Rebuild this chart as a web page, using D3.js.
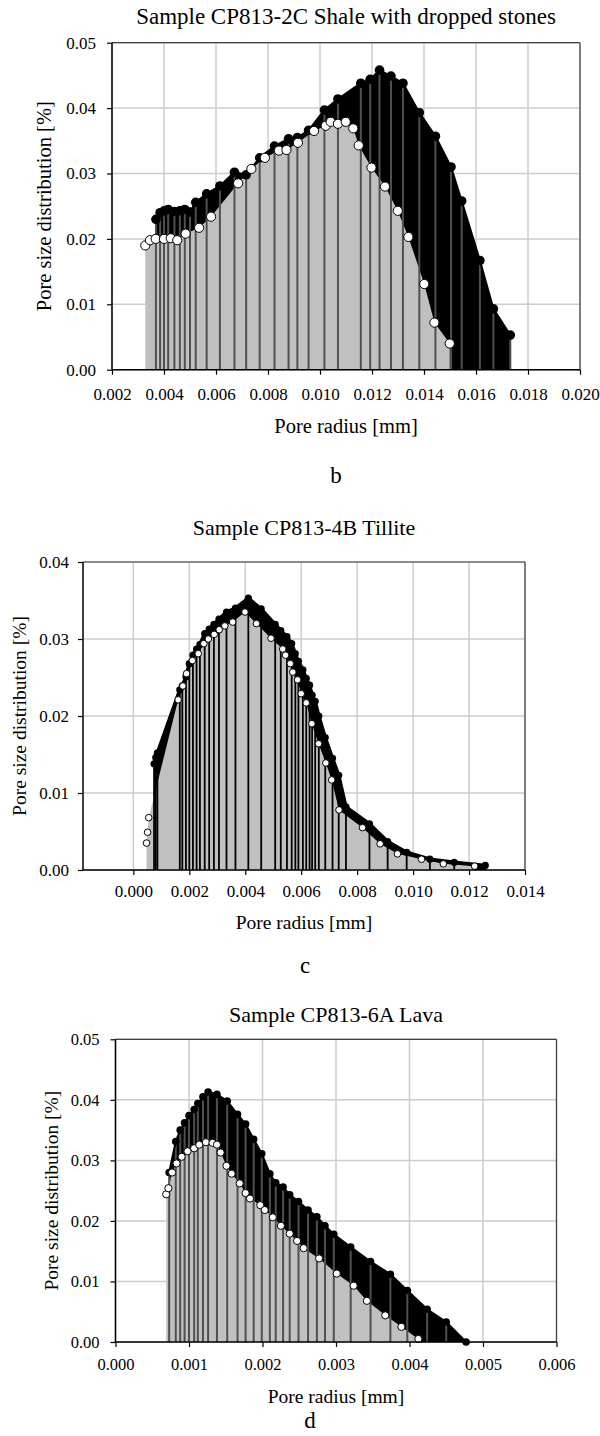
<!DOCTYPE html>
<html>
<head>
<meta charset="utf-8">
<script src="https://cdn.jsdelivr.net/npm/d3@7"></script>
<style>
  body { margin: 0; background: #fff; }
  svg { display: block; }
</style>
</head>
<body>
<svg id="fig" width="600" height="1436"></svg>
<script>
// ---- panel b : CP813-2C shale ----
const bBlackX = [0.00369, 0.00385, 0.00400, 0.00416, 0.00440, 0.00461, 0.00480, 0.00500, 0.00522, 0.00564, 0.00615, 0.00671, 0.00716, 0.00768, 0.00825, 0.00879, 0.00913, 0.00956, 0.01017, 0.01069, 0.01157, 0.01193, 0.01229, 0.01273, 0.01319, 0.01382, 0.01444, 0.01504, 0.01545, 0.01615, 0.01667, 0.01732];
const bBlackY = [0.0230, 0.0240, 0.0243, 0.0245, 0.0242, 0.0243, 0.0245, 0.0241, 0.0256, 0.0269, 0.0281, 0.0302, 0.0298, 0.0324, 0.0342, 0.0353, 0.0355, 0.0366, 0.0397, 0.0414, 0.0438, 0.0444, 0.0458, 0.0449, 0.0438, 0.0393, 0.0357, 0.0310, 0.0258, 0.0167, 0.0093, 0.0053];
const bWhiteX = [0.00328, 0.00346, 0.00368, 0.00400, 0.00426, 0.00451, 0.00483, 0.00535, 0.00581, 0.00685, 0.00736, 0.00788, 0.00842, 0.00871, 0.00915, 0.00977, 0.01022, 0.01041, 0.01069, 0.01099, 0.01128, 0.01149, 0.01198, 0.01250, 0.01299, 0.01340, 0.01401, 0.01440, 0.01499];
const bWhiteY = [0.0190, 0.0198, 0.0200, 0.0200, 0.0201, 0.0198, 0.0208, 0.0217, 0.0234, 0.0285, 0.0307, 0.0324, 0.0335, 0.0336, 0.0347, 0.0365, 0.0373, 0.0379, 0.0376, 0.0379, 0.0369, 0.0343, 0.0309, 0.0280, 0.0243, 0.0203, 0.0131, 0.0072, 0.0040];
const bXTicks = [0.002, 0.004, 0.006, 0.008, 0.010, 0.012, 0.014, 0.016, 0.018, 0.020];
const bYTicks = [0.00, 0.01, 0.02, 0.03, 0.04, 0.05];

// ---- panel c : CP813-4B tillite ----
const cBlackX = [0.00074, 0.00080, 0.00086, 0.00166, 0.00175, 0.00188, 0.00200, 0.00213, 0.00226, 0.00238, 0.00255, 0.00271, 0.00288, 0.00306, 0.00333, 0.00365, 0.00411, 0.00457, 0.00507, 0.00527, 0.00549, 0.00566, 0.00579, 0.00590, 0.00606, 0.00618, 0.00630, 0.00639, 0.00650, 0.00663, 0.00686, 0.00712, 0.00734, 0.00760, 0.00844, 0.00909, 0.00977, 0.01060, 0.01147, 0.01258];
const cBlackY = [0.0138, 0.0146, 0.0152, 0.0234, 0.0239, 0.0251, 0.0268, 0.0279, 0.0287, 0.0293, 0.0307, 0.0313, 0.0319, 0.0326, 0.0335, 0.0340, 0.0353, 0.0339, 0.0319, 0.0311, 0.0303, 0.0294, 0.0281, 0.0271, 0.0260, 0.0249, 0.0240, 0.0227, 0.0219, 0.0200, 0.0172, 0.0145, 0.0123, 0.0082, 0.0060, 0.0037, 0.0023, 0.0014, 0.0010, 0.0006];
const cWhiteX = [0.00047, 0.00051, 0.00055, 0.00160, 0.00177, 0.00190, 0.00211, 0.00232, 0.00252, 0.00268, 0.00289, 0.00307, 0.00327, 0.00355, 0.00399, 0.00440, 0.00492, 0.00534, 0.00544, 0.00561, 0.00570, 0.00587, 0.00600, 0.00618, 0.00638, 0.00662, 0.00688, 0.00709, 0.00735, 0.00819, 0.00882, 0.00944, 0.01030, 0.01108, 0.01220];
const cWhiteY = [0.0035, 0.0049, 0.0068, 0.0221, 0.0239, 0.0255, 0.0272, 0.0281, 0.0294, 0.0300, 0.0306, 0.0312, 0.0317, 0.0322, 0.0335, 0.0320, 0.0301, 0.0287, 0.0279, 0.0268, 0.0257, 0.0247, 0.0229, 0.0217, 0.0190, 0.0164, 0.0139, 0.0117, 0.0078, 0.0055, 0.0034, 0.0021, 0.0014, 0.0008, 0.0005];
const cXTicks = [0.000, 0.002, 0.004, 0.006, 0.008, 0.010, 0.012, 0.014];
const cYTicks = [0.00, 0.01, 0.02, 0.03, 0.04];

// ---- panel d : CP813-6A lava ----
const dBlackX = [0.00073, 0.00082, 0.00088, 0.00094, 0.00100, 0.00107, 0.00112, 0.00119, 0.00126, 0.00138, 0.00152, 0.00166, 0.00177, 0.00188, 0.00199, 0.00210, 0.00218, 0.00228, 0.00237, 0.00249, 0.00262, 0.00274, 0.00285, 0.00297, 0.00320, 0.00347, 0.00374, 0.00397, 0.00424, 0.00450, 0.00477];
const dBlackY = [0.0280, 0.0331, 0.0350, 0.0362, 0.0374, 0.0384, 0.0394, 0.0405, 0.0413, 0.0409, 0.0398, 0.0376, 0.0360, 0.0335, 0.0311, 0.0278, 0.0263, 0.0256, 0.0243, 0.0232, 0.0218, 0.0207, 0.0192, 0.0178, 0.0157, 0.0133, 0.0112, 0.0085, 0.0054, 0.0033, 0.0000];
const dWhiteX = [0.00069, 0.00072, 0.00077, 0.00083, 0.00090, 0.00098, 0.00107, 0.00114, 0.00123, 0.00132, 0.00138, 0.00143, 0.00151, 0.00158, 0.00169, 0.00177, 0.00183, 0.00197, 0.00203, 0.00214, 0.00225, 0.00237, 0.00247, 0.00256, 0.00277, 0.00301, 0.00324, 0.00342, 0.00367, 0.00389, 0.00412];
const dWhiteY = [0.0244, 0.0254, 0.0280, 0.0295, 0.0306, 0.0315, 0.0320, 0.0326, 0.0330, 0.0329, 0.0326, 0.0313, 0.0291, 0.0278, 0.0262, 0.0246, 0.0237, 0.0226, 0.0218, 0.0206, 0.0192, 0.0179, 0.0167, 0.0155, 0.0138, 0.0113, 0.0093, 0.0068, 0.0044, 0.0025, 0.0005];
const dXTicks = [0.000, 0.001, 0.002, 0.003, 0.004, 0.005, 0.006];
const dYTicks = [0.00, 0.01, 0.02, 0.03, 0.04, 0.05];

// pick the first serif face that is really installed (Times-like first)
function pickFont(list) {
  const ctx = document.createElement("canvas").getContext("2d");
  const probe = "Sample CP813 mmmwwwlli 0.012";
  ctx.font = "40px monospace";
  const base = ctx.measureText(probe).width;
  for (const f of list) {
    ctx.font = `40px "${f}", monospace`;
    if (Math.abs(ctx.measureText(probe).width - base) > 0.5) return `"${f}", serif`;
  }
  return "serif";
}
const FONT = pickFont(["Liberation Serif", "Times New Roman", "Tinos", "Nimbus Roman", "DejaVu Serif", "Noto Serif"]);

const svg = d3.select("#fig").style("font-family", FONT);
const zip = (xs, ys) => xs.map((x, i) => ({x: x, y: ys[i]}));

function drawPanel(o) {
  const x = d3.scaleLinear().domain(o.xDomain).range([o.left, o.right]);
  const y = d3.scaleLinear().domain(o.yDomain).range([o.bottom, o.top]);
  const g = svg.append("g");
  const black = zip(o.bx, o.by);
  const white = zip(o.wx, o.wy);

  // grid
  g.selectAll(".gx").data(o.xTicks).enter().append("line")
    .attr("x1", d => x(d)).attr("x2", d => x(d))
    .attr("y1", o.top).attr("y2", o.bottom)
    .attr("stroke", "#cccccc").attr("stroke-width", 1.5);
  g.selectAll(".gy").data(o.yTicks).enter().append("line")
    .attr("x1", o.left).attr("x2", o.right)
    .attr("y1", d => y(d)).attr("y2", d => y(d))
    .attr("stroke", "#cccccc").attr("stroke-width", 1.5);

  // black area then grey area on top
  const area = d3.area().x(d => x(d.x)).y0(y(0)).y1(d => y(d.y));
  g.append("path").datum(black).attr("d", area).attr("fill", "#000");
  g.append("path").datum(white).attr("d", area).attr("fill", "#c0c0c0");

  // drop lines
  g.selectAll(".drop").data(black).enter().append("line")
    .attr("x1", d => x(d.x)).attr("x2", d => x(d.x))
    .attr("y1", d => y(d.y)).attr("y2", y(0))
    .attr("stroke", o.dropColor).attr("stroke-width", o.dropWidth);

  // black line + dots
  g.append("path").datum(black)
    .attr("d", d3.line().x(d => x(d.x)).y(d => y(d.y)))
    .attr("fill", "none").attr("stroke", "#000").attr("stroke-width", o.lineWidth);
  g.selectAll(".bd").data(black).enter().append("circle")
    .attr("cx", d => x(d.x)).attr("cy", d => y(d.y)).attr("r", o.rb).attr("fill", "#000");
  g.selectAll(".wd").data(white).enter().append("circle")
    .attr("cx", d => x(d.x)).attr("cy", d => y(d.y)).attr("r", o.rw)
    .attr("fill", "#fff").attr("stroke", "#000").attr("stroke-width", 1);

  // frame
  g.append("line").attr("x1", o.left).attr("x2", o.right).attr("y1", o.top).attr("y2", o.top)
    .attr("stroke", "#404040").attr("stroke-width", 1.2);
  g.append("line").attr("x1", o.right).attr("x2", o.right).attr("y1", o.top).attr("y2", o.bottom)
    .attr("stroke", "#404040").attr("stroke-width", 1.2);

  // axes
  const xAxis = d3.axisBottom(x).tickValues(o.xTicks).tickFormat(d3.format(".3f")).tickSize(5).tickPadding(o.xPad);
  const yAxis = d3.axisLeft(y).tickValues(o.yTicks).tickFormat(d3.format(".2f")).tickSize(5).tickPadding(o.yPad);
  const ax = g.append("g").attr("transform", `translate(0,${o.bottom})`).call(xAxis);
  const ay = g.append("g").attr("transform", `translate(${o.left},0)`).call(yAxis);
  [ax, ay].forEach(a => {
    a.attr("font-family", FONT).attr("font-size", o.tickFont);
    a.select(".domain").attr("stroke", "#000").attr("stroke-width", 1.5);
    a.selectAll(".tick line").attr("stroke", "#000").attr("stroke-width", 1.2);
    a.selectAll("text").attr("fill", "#000");
  });
  ax.select(".domain").attr("d", `M${o.left},0H${o.right}`);
  ay.select(".domain").attr("d", `M0,${o.top}V${o.bottom}`);

  // texts
  g.append("text").attr("x", (o.left + o.right) / 2).attr("y", o.titleY)
    .attr("text-anchor", "middle").attr("font-size", o.titleFont).text(o.title);
  g.append("text").attr("x", (o.left + o.right) / 2).attr("y", o.xLabelY)
    .attr("text-anchor", "middle").attr("font-size", o.labelFont).text("Pore radius [mm]");
  g.append("text")
    .attr("transform", `translate(${o.yLabelX},${(o.top + o.bottom) / 2}) rotate(-90)`)
    .attr("text-anchor", "middle").attr("font-size", o.labelFont).text("Pore size distribution [%]");
  g.append("text").attr("x", o.letterX).attr("y", o.letterY)
    .attr("text-anchor", "middle").attr("font-size", 23).text(o.letter);
}

drawPanel({
  title: "Sample CP813-2C Shale with dropped stones", letter: "b",
  bx: bBlackX, by: bBlackY, wx: bWhiteX, wy: bWhiteY,
  xTicks: bXTicks, yTicks: bYTicks, xDomain: [0.002, 0.020], yDomain: [0, 0.05],
  left: 112, right: 580, top: 42.7, bottom: 369.7,
  titleY: 24, titleFont: 23, xLabelY: 433, yLabelX: 51, labelFont: 20.5,
  letterX: 336, letterY: 483, tickFont: 17, yPad: 11, xPad: 13,
  dropColor: "#505050", dropWidth: 2, lineWidth: 2, rb: 4.8, rw: 4.6
});

drawPanel({
  title: "Sample CP813-4B Tillite", letter: "c",
  bx: cBlackX, by: cBlackY, wx: cWhiteX, wy: cWhiteY,
  xTicks: cXTicks, yTicks: cYTicks, xDomain: [-0.0018, 0.014], yDomain: [0, 0.04],
  left: 83, right: 525, top: 562, bottom: 870,
  titleY: 535, titleFont: 22, xLabelY: 929, yLabelX: 26, labelFont: 19.5,
  letterX: 305, letterY: 973, tickFont: 17, yPad: 9, xPad: 10,
  dropColor: "#000", dropWidth: 1.8, lineWidth: 3.5, rb: 3.6, rw: 3.3
});

drawPanel({
  title: "Sample CP813-6A Lava", letter: "d",
  bx: dBlackX, by: dBlackY, wx: dWhiteX, wy: dWhiteY,
  xTicks: dXTicks, yTicks: dYTicks, xDomain: [0, 0.006], yDomain: [0, 0.05],
  left: 115.5, right: 556.5, top: 1039.3, bottom: 1342,
  titleY: 1022, titleFont: 22, xLabelY: 1403, yLabelX: 58, labelFont: 19.5,
  letterX: 310, letterY: 1428, tickFont: 16.5, yPad: 11, xPad: 11,
  dropColor: "#505050", dropWidth: 2, lineWidth: 2, rb: 3.8, rw: 3.6
});
</script>
</body>
</html>
